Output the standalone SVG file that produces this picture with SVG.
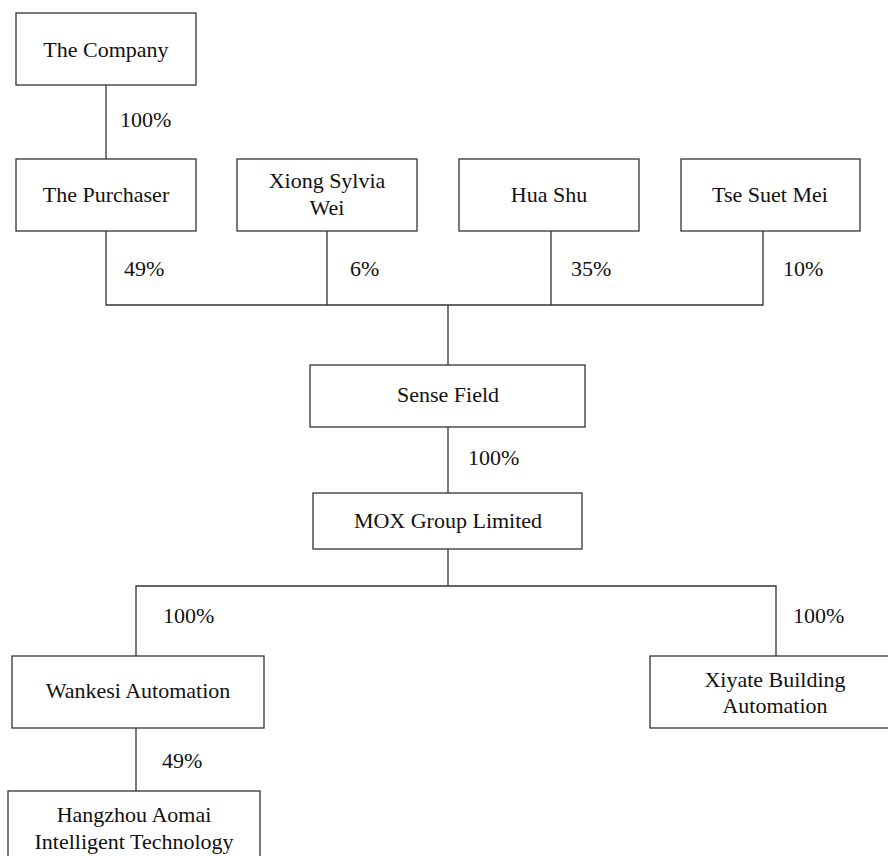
<svg xmlns="http://www.w3.org/2000/svg" width="888" height="856" viewBox="0 0 888 856">
<style>
.box{fill:#fff;stroke:#333;stroke-width:1.3}
.ln{fill:none;stroke:#333;stroke-width:1.3}
text{font-family:"Liberation Serif","Times New Roman",serif;font-size:22px;fill:#111}
.c{text-anchor:middle}
</style>
<rect width="888" height="856" fill="#fff"/>
<g id="connectors">
<path class="ln" d="M106 85V159"/>
<path class="ln" d="M106 231V305H763V231M327 231V305M551 231V305M448 305V365"/>
<path class="ln" d="M448 427V493"/>
<path class="ln" d="M448 549V586M136 656V586H776V656"/>
<path class="ln" d="M136 728V791"/>
<text x="120" y="127">100%</text>
<text x="124" y="276">49%</text>
<text x="350" y="276">6%</text>
<text x="571" y="276">35%</text>
<text x="783" y="276">10%</text>
<text x="468" y="465">100%</text>
<text x="163" y="623">100%</text>
<text x="793" y="623">100%</text>
<text x="162" y="768">49%</text>
</g>
<g id="company"><rect class="box" x="16" y="13" width="180" height="72"/><text class="c" x="106" y="57">The Company</text></g>
<g id="purchaser"><rect class="box" x="16" y="159" width="180" height="72"/><text class="c" x="106" y="202">The Purchaser</text></g>
<g id="xiong"><rect class="box" x="237" y="159" width="180" height="72"/><text class="c" x="327" y="188">Xiong Sylvia</text><text class="c" x="327" y="215">Wei</text></g>
<g id="hua"><rect class="box" x="459" y="159" width="180" height="72"/><text class="c" x="549" y="202">Hua Shu</text></g>
<g id="tse"><rect class="box" x="681" y="159" width="179" height="72"/><text class="c" x="770" y="202">Tse Suet Mei</text></g>
<g id="sense"><rect class="box" x="310" y="365" width="275" height="62"/><text class="c" x="448" y="402">Sense Field</text></g>
<g id="mox"><rect class="box" x="313" y="493" width="269" height="56"/><text class="c" x="448" y="528">MOX Group Limited</text></g>
<g id="wankesi"><rect class="box" x="12" y="656" width="252" height="72"/><text class="c" x="138" y="698">Wankesi Automation</text></g>
<g id="xiyate"><rect class="box" x="650" y="656" width="252" height="72"/><text class="c" x="775" y="687">Xiyate Building</text><text class="c" x="775" y="713">Automation</text></g>
<g id="hangzhou"><rect class="box" x="8" y="791" width="252" height="72"/><text class="c" x="134" y="822">Hangzhou Aomai</text><text class="c" x="134" y="849">Intelligent Technology</text></g>
</svg>
